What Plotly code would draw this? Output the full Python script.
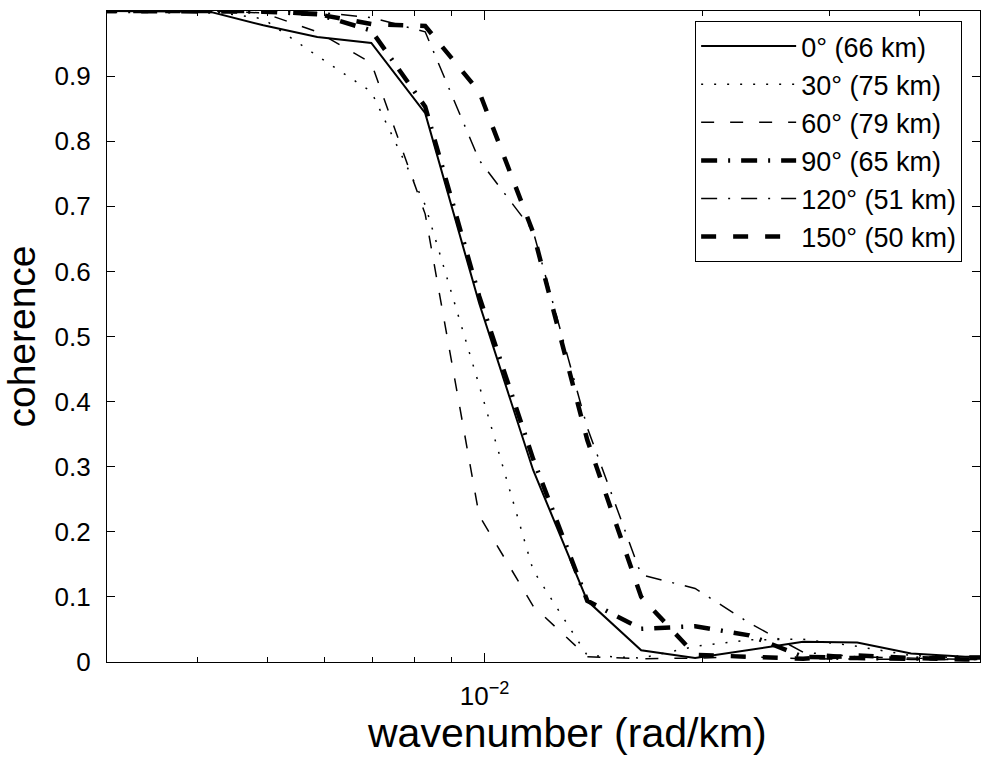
import plotly.graph_objects as go

# wavenumber (rad/km) sample points
wavenumber = [0.002945, 0.0035, 0.004157, 0.004937, 0.005865, 0.006967, 0.008273, 0.009826,
              0.01167, 0.01387, 0.01647, 0.01956, 0.02324, 0.0276, 0.03279, 0.03894, 0.04626, 0.05494]

coh_0 = [1.0, 1.0, 0.999, 0.978, 0.960, 0.951, 0.843, 0.551, 0.295, 0.094, 0.018, 0.006,
         0.018, 0.031, 0.030, 0.013, 0.008, 0.008]
coh_30 = [1.0, 1.0, 1.0, 0.988, 0.931, 0.876, 0.702, 0.425, 0.141, 0.010, 0.006, 0.024,
          0.034, 0.035, 0.024, 0.010, 0.006, 0.006]
coh_60 = [1.0, 1.0, 1.0, 0.997, 0.968, 0.920, 0.688, 0.225, 0.086, 0.008, 0.005, 0.006,
          0.008, 0.005, 0.004, 0.004, 0.004, 0.004]
coh_90 = [1.0, 1.0, 1.0, 0.999, 0.995, 0.970, 0.853, 0.562, 0.312, 0.094, 0.051, 0.055,
          0.041, 0.008, 0.006, 0.005, 0.007, 0.007]
coh_120 = [1.0, 1.0, 1.0, 1.0, 0.998, 0.990, 0.968, 0.771, 0.662, 0.360, 0.134, 0.113,
           0.060, 0.015, 0.008, 0.006, 0.004, 0.004]
coh_150 = [1.0, 1.0, 1.0, 1.0, 0.995, 0.980, 0.977, 0.876, 0.660, 0.341, 0.100, 0.011,
           0.008, 0.005, 0.010, 0.006, 0.004, 0.004]

series_names = ["0° (66 km)", "30° (75 km)", "60° (79 km)", "90° (65 km)", "120° (51 km)", "150° (50 km)"]
series_values = [coh_0, coh_30, coh_60, coh_90, coh_120, coh_150]

x_tick_vals = [0.01]
x_tick_text = ["10<sup>−2</sup>"]
x_minor_vals = [0.004, 0.005, 0.006, 0.007, 0.008, 0.009, 0.02, 0.03, 0.04]
y_tick_vals = [0, 0.1, 0.2, 0.3, 0.4, 0.5, 0.6, 0.7, 0.8, 0.9]
y_tick_text = ["0", "0.1", "0.2", "0.3", "0.4", "0.5", "0.6", "0.7", "0.8", "0.9"]
x_title = "wavenumber (rad/km)"
y_title = "coherence"

styles = [
    dict(dash="solid", width=2),
    dict(dash="2px,11px", width=1.5),
    dict(dash="13px,16px", width=1.5),
    dict(dash="16px,11px,2px,11px", width=4.5),
    dict(dash="16px,11px,2px,11px", width=1.5),
    dict(dash="15px,17px", width=4.5),
]

FONT = "Liberation Sans, Arial, Helvetica, sans-serif"

fig = go.Figure()
for name, vals, st in zip(series_names, series_values, styles):
    fig.add_trace(go.Scatter(
        x=wavenumber, y=vals, mode="lines", name=name,
        line=dict(color="black", width=st["width"], dash=st["dash"]),
    ))

axis_common = dict(
    showline=True, linecolor="black", linewidth=1.3, mirror="allticks",
    ticks="inside", tickcolor="black", tickwidth=1.3,
    showgrid=False, zeroline=False,
    tickfont=dict(family=FONT, size=26, color="black"),
)

fig.update_layout(
    width=981, height=757,
    margin=dict(l=107, r=1, t=11, b=95),
    paper_bgcolor="white", plot_bgcolor="white",
    font=dict(family=FONT, color="black"),
    showlegend=True,
    legend=dict(
        x=0.6737, y=0.9846, xanchor="left", yanchor="top",
        bgcolor="white", bordercolor="black", borderwidth=1,
        font=dict(family=FONT, size=27, color="black"),
        itemwidth=95, tracegroupgap=0,
    ),
    xaxis=dict(
        type="log", range=[-2.5229, -1.3142],
        tickmode="array", tickvals=x_tick_vals, ticktext=x_tick_text, ticklen=9,
        minor=dict(tickmode="array", tickvals=x_minor_vals, ticks="inside",
                   ticklen=5, tickwidth=1.3, tickcolor="black", showgrid=False),
        ticklabelstandoff=11,
        **axis_common,
    ),
    yaxis=dict(
        range=[0, 1],
        tickmode="array", tickvals=y_tick_vals, ticktext=y_tick_text, ticklen=8,
        title=dict(text=y_title, font=dict(family=FONT, size=39, color="black"),
                   standoff=10),
        ticklabelstandoff=10,
        **axis_common,
    ),
    annotations=[dict(
        text=x_title, xref="paper", yref="paper", x=0.527, y=0,
        xanchor="center", yanchor="top", yshift=-46, showarrow=False,
        font=dict(family=FONT, size=41, color="black"),
    )],
)

fig.write_html("out.html")
